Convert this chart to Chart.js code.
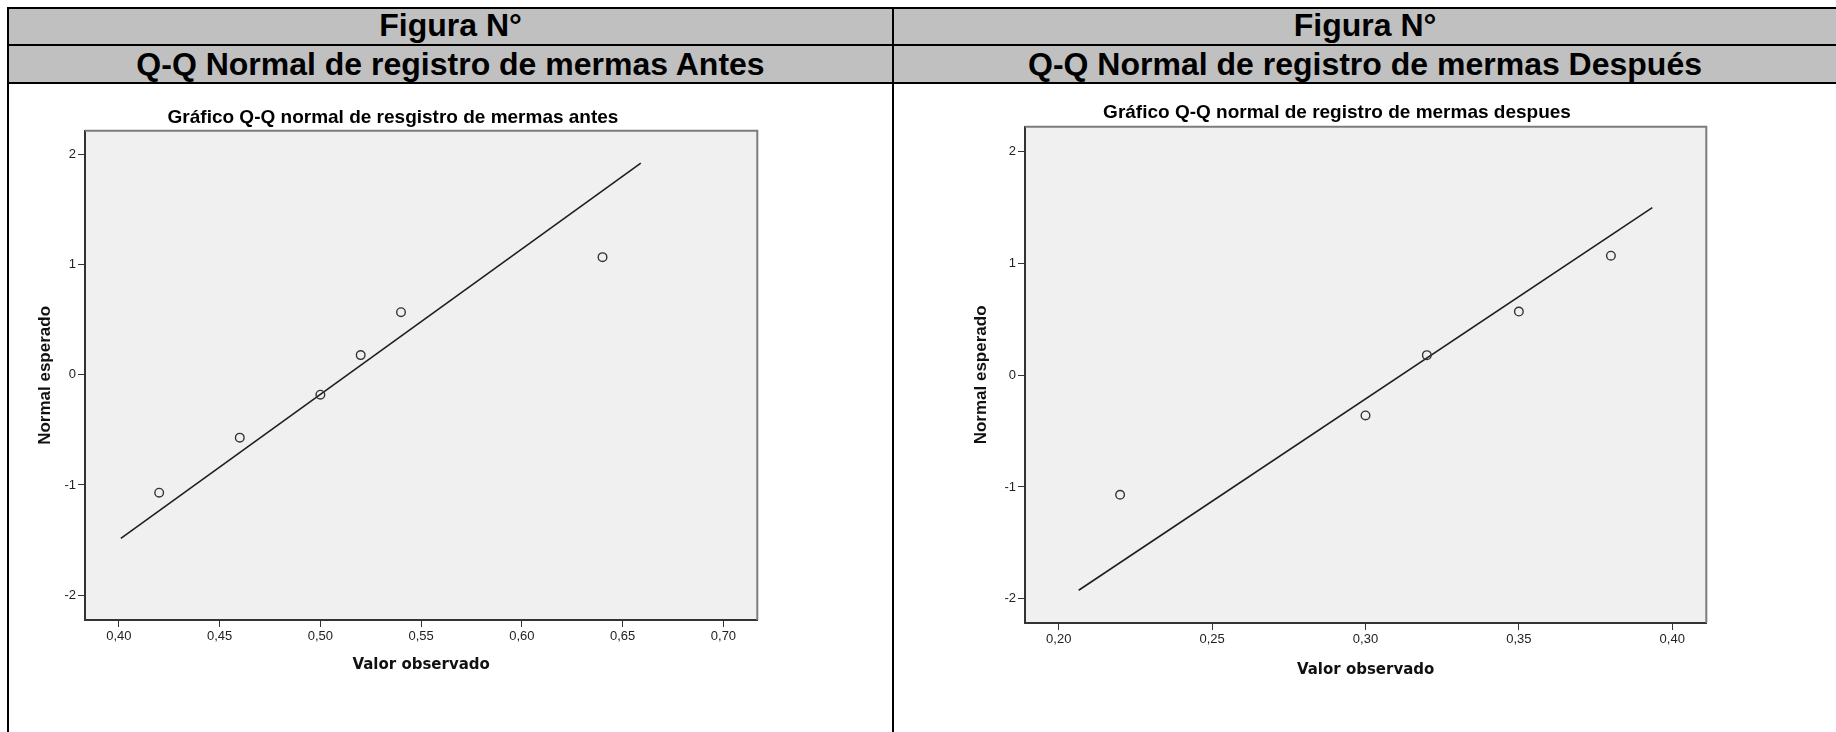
<!DOCTYPE html>
<html>
<head>
<meta charset="utf-8">
<script src="https://cdn.jsdelivr.net/npm/chart.js@4.4.1/dist/chart.umd.min.js"></script>
<style>
body { margin: 0; background: #fff; width: 1836px; height: 732px; overflow: hidden; position: relative; font-family: "Liberation Sans", Arial, sans-serif; }
.ln { position: absolute; background: #000; }
.fill { position: absolute; background: #c0c0c0; }
.cell { position: absolute; text-align: center; font-weight: bold; font-size: 32px; color: #000; white-space: nowrap; }
canvas { position: absolute; }
</style>
</head>
<body>
<!-- header fills -->
<div class="fill" style="left:9px;top:9px;width:883px;height:35px"></div>
<div class="fill" style="left:894px;top:9px;width:942px;height:35px"></div>
<div class="fill" style="left:9px;top:46px;width:883px;height:36px"></div>
<div class="fill" style="left:894px;top:46px;width:942px;height:36px"></div>
<!-- table lines -->
<div class="ln" style="left:7px;top:7px;width:1829px;height:2px"></div>
<div class="ln" style="left:7px;top:44px;width:1829px;height:2px"></div>
<div class="ln" style="left:7px;top:82px;width:1829px;height:2px"></div>
<div class="ln" style="left:7px;top:7px;width:2px;height:725px"></div>
<div class="ln" style="left:892px;top:7px;width:2px;height:725px"></div>
<!-- header text -->
<div class="cell" style="left:9px;top:9px;width:883px;height:35px;line-height:33px">Figura N°</div>
<div class="cell" style="left:894px;top:9px;width:942px;height:35px;line-height:33px">Figura N°</div>
<div class="cell" style="left:9px;top:46px;width:883px;height:36px;line-height:37px">Q-Q Normal de registro de mermas Antes</div>
<div class="cell" style="left:894px;top:46px;width:942px;height:36px;line-height:37px">Q-Q Normal de registro de mermas Después</div>

<canvas id="qq-antes" width="738" height="584" style="left:25px;top:90px"></canvas>
<canvas id="qq-despues" width="748" height="589" style="left:964px;top:90px"></canvas>

<script>
// Antes
const antesObservado = [0.42, 0.46, 0.50, 0.52, 0.54, 0.64];
const antesEsperado = [-1.07, -0.57, -0.18, 0.18, 0.57, 1.07];
const antesRectaX = [0.401, 0.659];
const antesRectaY = [-1.485, 1.925];
const antesTicksX = [0.40, 0.45, 0.50, 0.55, 0.60, 0.65, 0.70];

// Despues
const despuesObservado = [0.22, 0.30, 0.32, 0.35, 0.38];
const despuesEsperado = [-1.07, -0.36, 0.18, 0.57, 1.07];
const despuesRectaX = [0.2065, 0.3935];
const despuesRectaY = [-1.925, 1.50];
const despuesTicksX = [0.20, 0.25, 0.30, 0.35, 0.40];

const ticksY = [-2, -1, 0, 1, 2];

Chart.defaults.font.family = '"Liberation Sans", Arial, sans-serif';

function toPoints(xs, ys) {
    return xs.map((x, i) => ({x: x, y: ys[i]}));
}

const marco = {
    id: 'marco',
    beforeDraw(chart) {
        const {ctx, chartArea: a} = chart;
        ctx.save();
        ctx.fillStyle = '#f0f0f0';
        ctx.fillRect(a.left, a.top, a.right - a.left, a.bottom - a.top);
        ctx.restore();
    },
    afterDraw(chart) {
        const {ctx, chartArea: a} = chart;
        ctx.save();
        ctx.strokeStyle = '#7c7c7c';
        ctx.lineWidth = 2;
        ctx.beginPath();
        ctx.moveTo(a.left, a.top);
        ctx.lineTo(a.right, a.top);
        ctx.lineTo(a.right, a.bottom);
        ctx.stroke();
        ctx.restore();
    }
};

function getOptions(s) {
    return {
        responsive: false,
        animation: false,
        layout: { padding: { left: 0, right: 2, top: 0, bottom: 0 } },
        plugins: {
            legend: { display: false },
            tooltip: { enabled: false },
            title: {
                display: true,
                text: s.titulo,
                color: '#000',
                font: { size: 19, weight: 'bold', lineHeight: 1.2 },
                padding: { top: s.tTop, bottom: s.tBottom }
            }
        },
        scales: {
            x: {
                type: 'linear',
                min: s.xMin,
                max: s.xMax,
                afterBuildTicks: function(scale) {
                    scale.ticks = s.ticksX.map(v => ({value: v}));
                },
                afterFit: function(scale) {
                    scale.height = s.hX;
                },
                ticks: {
                    callback: v => v.toFixed(2).replace('.', ','),
                    color: '#222',
                    font: { size: 13 },
                    padding: 2,
                    maxRotation: 0,
                    autoSkip: false
                },
                grid: { drawOnChartArea: false, drawTicks: true, tickLength: 7, color: '#333' },
                border: { color: '#333', width: 2 },
                title: {
                    display: true,
                    text: 'Valor observado',
                    color: '#111',
                    font: { family: '"DejaVu Sans"', weight: 'bold', size: 15, lineHeight: 1.2 },
                    padding: { top: 0, bottom: 0 }
                }
            },
            y: {
                type: 'linear',
                min: s.yMin,
                max: s.yMax,
                afterBuildTicks: function(scale) {
                    scale.ticks = ticksY.map(v => ({value: v}));
                },
                afterFit: function(scale) {
                    scale.width = s.wY;
                },
                ticks: {
                    callback: v => String(v),
                    color: '#222',
                    font: { size: 13 },
                    padding: 2
                },
                grid: { drawOnChartArea: false, drawTicks: true, tickLength: 7, color: '#333' },
                border: { color: '#333', width: 2 },
                title: {
                    display: true,
                    text: 'Normal esperado',
                    color: '#111',
                    font: { weight: 'bold', size: 17, lineHeight: 1.2 },
                    padding: { top: s.padY, bottom: 0 }
                }
            }
        }
    };
}

function getData(obsX, espY, rectaX, rectaY) {
    return {
        datasets: [{
            type: 'scatter',
            data: toPoints(obsX, espY),
            pointRadius: 4.3,
            pointBorderColor: '#333',
            pointBackgroundColor: 'rgba(0,0,0,0)',
            pointBorderWidth: 1.4,
            showLine: false
        }, {
            type: 'line',
            data: toPoints(rectaX, rectaY),
            borderColor: '#1e1e1e',
            borderWidth: 1.6,
            pointRadius: 0,
            fill: false
        }]
    };
}

new Chart('qq-antes', {
    type: 'scatter',
    data: getData(antesObservado, antesEsperado, antesRectaX, antesRectaY),
    options: getOptions({
        titulo: 'Gráfico Q-Q normal de resgistro de mermas antes',
        tTop: 16, tBottom: 2,
        xMin: 0.3832, xMax: 0.7168, ticksX: antesTicksX, hX: 54,
        yMin: -2.227, yMax: 2.218, wY: 60, padY: 10
    }),
    plugins: [marco]
});

new Chart('qq-despues', {
    type: 'scatter',
    data: getData(despuesObservado, despuesEsperado, despuesRectaX, despuesRectaY),
    options: getOptions({
        titulo: 'Gráfico Q-Q normal de registro de mermas despues',
        tTop: 11, tBottom: 3,
        xMin: 0.189, xMax: 0.4111, ticksX: despuesTicksX, hX: 56,
        yMin: -2.218, yMax: 2.224, wY: 61, padY: 7
    }),
    plugins: [marco]
});
</script>
</body>
</html>
